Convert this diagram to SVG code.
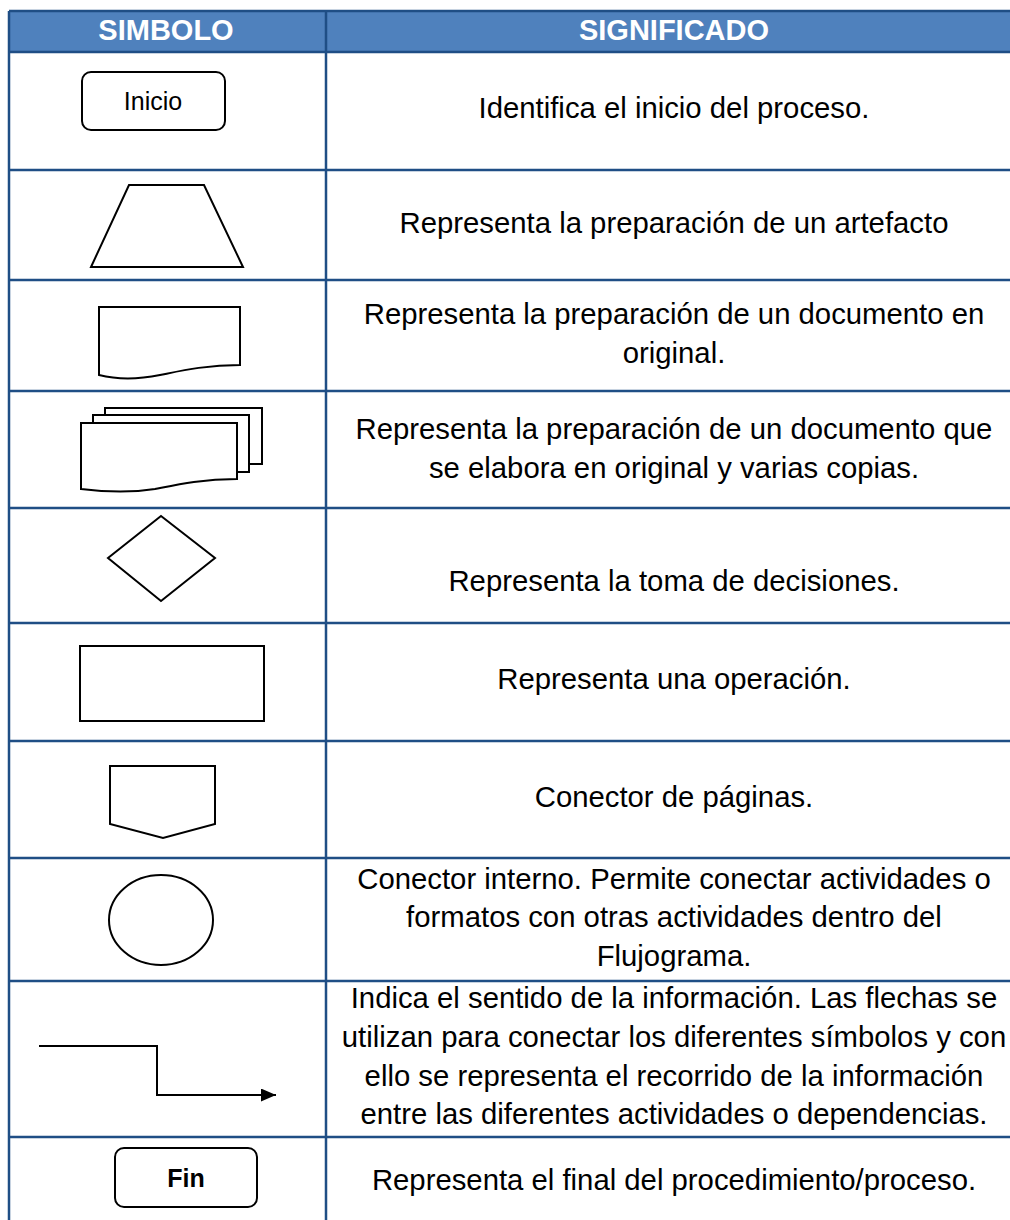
<svg xmlns="http://www.w3.org/2000/svg" width="1010" height="1220" viewBox="0 0 1010 1220">
<defs>
<marker id="ah" markerWidth="16" markerHeight="14" refX="15" refY="6.5" orient="auto" markerUnits="userSpaceOnUse" viewBox="0 0 16 14">
<path d="M0,0 L15,6.5 L0,13 Z" fill="#000"/>
</marker>
<style>
.grid{stroke:#1F4E85;stroke-width:2.5;fill:none}
.hdr{font-family:"Liberation Sans",Arial,sans-serif;font-weight:bold;font-size:29px;fill:#fff;text-anchor:middle}
.desc{font-family:"Liberation Sans",Arial,sans-serif;font-size:29.3px;fill:#000;text-anchor:middle}
.sym{fill:#fff;stroke:#000;stroke-width:2}
.lbl{font-family:"Liberation Sans",Arial,sans-serif;font-size:25px;fill:#000;text-anchor:middle}
</style>
</defs>
<rect x="0" y="0" width="1010" height="1220" fill="#fff"/>
<g id="table">
<rect x="9" y="11" width="1005" height="41" fill="#4F81BD"/>
<path class="grid" d="M9,11 V1222 M326,11 V1222 M9,11 H1012 M9,52 H1012 M9,170 H1012 M9,280 H1012 M9,391 H1012 M9,508 H1012 M9,623 H1012 M9,741 H1012 M9,858 H1012 M9,981 H1012 M9,1137 H1012"/>
<text class="hdr" x="166" y="40">SIMBOLO</text>
<text class="hdr" x="674" y="40">SIGNIFICADO</text>
</g>
<g id="inicio">
<rect class="sym" x="82" y="72" width="143" height="58" rx="9"/>
<text class="lbl" x="153" y="110">Inicio</text>
</g>
<g id="trapecio">
<path class="sym" d="M129,185 H204 L243,267 H91 Z" stroke-width="1.5"/>
</g>
<g id="documento">
<path class="sym" d="M99,307 H240 V365 C205,365 180,371 160,375 C135,380 115,379 99,375 Z"/>
</g>
<g id="multidocumento">
<path class="sym" d="M105,408 H262 V464 H105 Z"/>
<path class="sym" d="M93,415 H249 V472 H93 Z"/>
<path class="sym" d="M81,423 H237 V479 C200,479 175,485 155,489 C130,493 105,492 81,489 Z"/>
</g>
<g id="decision">
<path class="sym" d="M161,516 L215,558 L161,601 L108,558 Z" stroke-width="1.5"/>
</g>
<g id="operacion">
<rect class="sym" x="80" y="646" width="184" height="75"/>
</g>
<g id="conector-paginas">
<path class="sym" d="M110,766 H215 V824 L163,838 L110,824 Z"/>
</g>
<g id="conector-interno">
<ellipse class="sym" cx="161" cy="920" rx="52" ry="45" stroke-width="1.5"/>
</g>
<g id="connectors">
<path d="M39,1046 H157 V1095 H276" fill="none" stroke="#000" stroke-width="2" marker-end="url(#ah)"/>
</g>
<g id="fin">
<rect class="sym" x="115" y="1148" width="142" height="59" rx="9"/>
<text class="lbl" x="186" y="1187" font-weight="bold">Fin</text>
</g>
<g id="descriptions">
<text class="desc" x="674" y="118">Identifica el inicio del proceso.</text>
<text class="desc" x="674" y="233">Representa la preparación de un artefacto</text>
<text class="desc" x="674" y="324">Representa la preparación de un documento en</text>
<text class="desc" x="674" y="363">original.</text>
<text class="desc" x="674" y="439">Representa la preparación de un documento que</text>
<text class="desc" x="674" y="478">se elabora en original y varias copias.</text>
<text class="desc" x="674" y="591">Representa la toma de decisiones.</text>
<text class="desc" x="674" y="689">Representa una operación.</text>
<text class="desc" x="674" y="807">Conector de páginas.</text>
<text class="desc" x="674" y="889">Conector interno. Permite conectar actividades o</text>
<text class="desc" x="674" y="927">formatos con otras actividades dentro del</text>
<text class="desc" x="674" y="966">Flujograma.</text>
<text class="desc" x="674" y="1008">Indica el sentido de la información. Las flechas se</text>
<text class="desc" x="674" y="1047">utilizan para conectar los diferentes símbolos y con</text>
<text class="desc" x="674" y="1086">ello se representa el recorrido de la información</text>
<text class="desc" x="674" y="1124">entre las diferentes actividades o dependencias.</text>
<text class="desc" x="674" y="1190">Representa el final del procedimiento/proceso.</text>
</g>
</svg>
